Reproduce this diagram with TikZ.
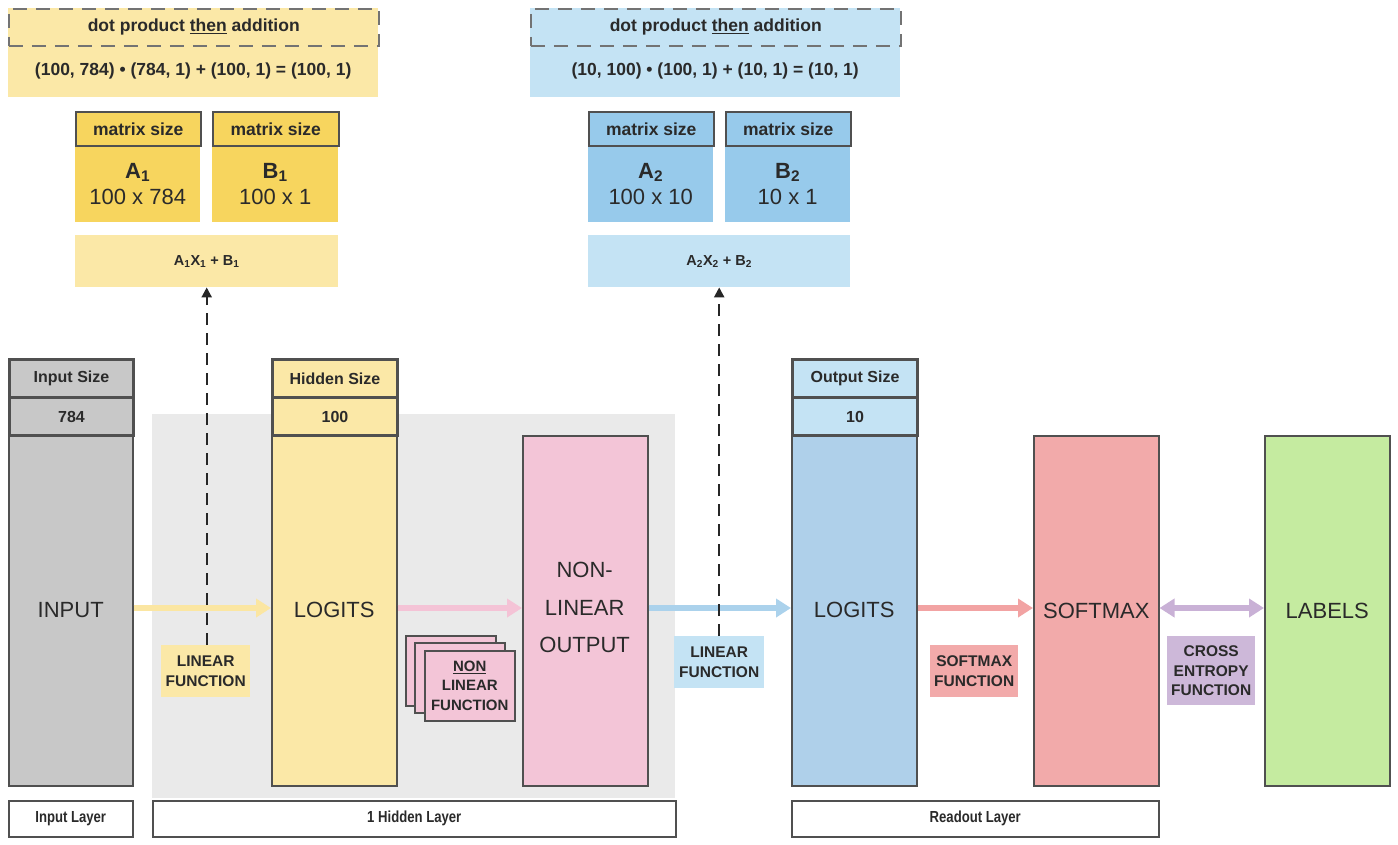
\documentclass[tikz,border=0pt]{standalone}
\usepackage{fontspec}
\setmainfont{Liberation Sans}
\newfontfamily\condf[FakeStretch=0.82]{Liberation Sans}
\usetikzlibrary{arrows.meta}
\definecolor{ylight}{HTML}{FBE8A7}
\definecolor{ydark}{HTML}{F7D55E}
\definecolor{blight}{HTML}{C4E3F4}
\definecolor{bmid}{HTML}{97CAEB}
\definecolor{bbody}{HTML}{AFD0EA}
\definecolor{gin}{HTML}{C8C8C8}
\definecolor{pinkc}{HTML}{F3C5D7}
\definecolor{redc}{HTML}{F2AAAA}
\definecolor{greenc}{HTML}{C5EBA0}
\definecolor{purplec}{HTML}{CDB8D9}
\definecolor{bgg}{HTML}{EAEAEA}
\definecolor{edge}{HTML}{505050}
\definecolor{txt}{HTML}{2A2A2A}
\definecolor{ya}{HTML}{FBE6A2}
\definecolor{pa}{HTML}{F4C3D6}
\definecolor{ba}{HTML}{ABD2EC}
\definecolor{ra}{HTML}{F2A3A3}
\definecolor{pua}{HTML}{C9B1D6}
\tikzset{
  base/.style={anchor=north west, inner sep=0pt, text=txt, align=center},
  plain/.style={base, draw=none},
  hdr/.style={base, draw=edge, line width=3pt, font=\bfseries\fontsize{16}{18}\selectfont},
  colbox/.style={base, draw=edge, line width=1.5pt, font=\fontsize{22}{38}\selectfont},
  mhdr/.style={base, draw=edge, line width=1.5pt, font=\bfseries\fontsize{17.5}{20}\selectfont},
  mbody/.style={base, font=\fontsize{22}{26}\selectfont},
  flabel/.style={base, font=\bfseries\fontsize{15.5}{19.5}\selectfont},
  layerlab/.style={base, draw=edge, line width=1.5pt, fill=white, font=\condf\bfseries\fontsize{16}{18}\selectfont},
  card/.style={base, draw=edge, line width=1.5pt, fill=pinkc},
  flow/.style={line width=6pt, -{Triangle[length=15pt,width=18pt]}},
  dflow/.style={line width=2.2pt, black!85, dash pattern=on 12pt off 8pt, -{Triangle[length=10pt,width=10pt]}},
  dpbox/.style={plain, draw=edge!80, dash pattern=on 14pt off 9pt, line width=1.5pt, minimum width=370pt, minimum height=37pt, font=\bfseries\fontsize{17.5}{20}\selectfont},
  formula/.style={plain, minimum width=370pt, minimum height=52pt, font=\bfseries\fontsize{17.5}{20}\selectfont},
  eqbox/.style={plain, minimum height=52pt, font=\bfseries\fontsize{14.5}{16}\selectfont},
}
\begin{document}
\begin{tikzpicture}[x=1pt,y=-1pt]
\useasboundingbox (0,0) rectangle (1398,844);
% gray hidden-layer background
\fill[bgg] (152,414) rectangle (675,798);

% ---- top left block ----
\fill[ylight] (8,8) rectangle (378,97);
\node[dpbox] (dp1) at (8,8) {dot product \underline{then} addition};
\node[formula] (f1) at (8,45) {(100, 784) • (784, 1) + (100, 1) = (100, 1)};
\node[mbody, fill=ydark, minimum width=125pt, minimum height=77pt] (a1) at (75,145) {\textbf{A\textsubscript{1}}\\100 x 784};
\node[mbody, fill=ydark, minimum width=126pt, minimum height=77pt] (b1) at (212,145) {\textbf{B\textsubscript{1}}\\100 x 1};
\node[mhdr, fill=ydark, minimum width=125pt, minimum height=34pt] (ah1) at (75,111) {matrix size};
\node[mhdr, fill=ydark, minimum width=126pt, minimum height=34pt] (bh1) at (212,111) {matrix size};
\node[eqbox, fill=ylight, minimum width=263pt] (eq1) at (75,235) {A\textsubscript{1}X\textsubscript{1} + B\textsubscript{1}};

% ---- top right block ----
\fill[blight] (530,8) rectangle (900,97);
\node[dpbox] (dp2) at (530,8) {dot product \underline{then} addition};
\node[formula] (f2) at (530,45) {(10, 100) • (100, 1) + (10, 1) = (10, 1)};
\node[mbody, fill=bmid, minimum width=125pt, minimum height=77pt] (a2) at (588,145) {\textbf{A\textsubscript{2}}\\100 x 10};
\node[mbody, fill=bmid, minimum width=125pt, minimum height=77pt] (b2) at (725,145) {\textbf{B\textsubscript{2}}\\10 x 1};
\node[mhdr, fill=bmid, minimum width=125pt, minimum height=34pt] (ah2) at (588,111) {matrix size};
\node[mhdr, fill=bmid, minimum width=125pt, minimum height=34pt] (bh2) at (725,111) {matrix size};
\node[eqbox, fill=blight, minimum width=262pt] (eq2) at (588,235) {A\textsubscript{2}X\textsubscript{2} + B\textsubscript{2}};

% ---- columns ----
\node[colbox, fill=gin, minimum width=124pt, minimum height=351pt] (input) at (8,434) {INPUT};
\node[hdr, fill=gin, minimum width=124pt, minimum height=38pt] (ins) at (8,358) {Input Size};
\node[hdr, fill=gin, minimum width=124pt, minimum height=38pt] (inv) at (8,396) {784};

\node[colbox, fill=ylight, minimum width=125pt, minimum height=351pt] (logits1) at (271,434) {LOGITS};
\node[hdr, fill=ylight, minimum width=125pt, minimum height=38pt] (hs) at (271,358) {Hidden Size};
\node[hdr, fill=ylight, minimum width=125pt, minimum height=38pt] (hv) at (271,396) {100};

\node[colbox, fill=pinkc, minimum width=125pt, minimum height=350pt] (nlo) at (522,435) {};
\node[base, font=\fontsize{22}{37.5}\selectfont, minimum width=125pt] (nlot) at (522,562) {NON-\\LINEAR\\OUTPUT};

\node[colbox, fill=bbody, minimum width=125pt, minimum height=351pt] (logits2) at (791,434) {LOGITS};
\node[hdr, fill=blight, minimum width=125pt, minimum height=38pt] (os) at (791,358) {Output Size};
\node[hdr, fill=blight, minimum width=125pt, minimum height=38pt] (ov) at (791,396) {10};

\node[colbox, fill=redc, minimum width=125pt, minimum height=350pt] (softmax) at (1033,435) {SOFTMAX};
\node[colbox, fill=greenc, minimum width=125pt, minimum height=350pt] (labels) at (1264,435) {LABELS};

% ---- flows ----
\draw[flow, ya] (input.east |- 0,608) -- (logits1.west |- 0,608);
\draw[flow, pa] (logits1.east |- 0,608) -- (nlo.west |- 0,608);
\draw[flow, ba] (nlo.east |- 0,608) -- (logits2.west |- 0,608);
\draw[flow, ra] (logits2.east |- 0,608) -- (softmax.west |- 0,608);
\draw[line width=6pt, pua, {Triangle[length=15pt,width=18pt]}-{Triangle[length=15pt,width=18pt]}] (softmax.east |- 0,608) -- (labels.west |- 0,608);

% ---- function labels ----
\node[flabel, fill=ylight, minimum width=89pt, minimum height=52pt] (lf1) at (161,645) {LINEAR\\FUNCTION};
\node[flabel, fill=blight, minimum width=90pt, minimum height=52pt] (lf2) at (674,636) {LINEAR\\FUNCTION};
\node[flabel, fill=redc, minimum width=88pt, minimum height=52pt] (sf) at (930,645) {SOFTMAX\\FUNCTION};
\node[flabel, fill=purplec, minimum width=88pt, minimum height=69pt] (ce) at (1167,636) {CROSS\\ENTROPY\\FUNCTION};

% non linear function cards
\node[card, minimum width=90pt, minimum height=70pt] (c3) at (405,635) {};
\node[card, minimum width=90pt, minimum height=70pt] (c2) at (414,642) {};
\node[card, minimum width=90pt, minimum height=70pt, font=\bfseries\fontsize{15}{19.5}\selectfont] (nlf) at (424,650) {\underline{NON}\\LINEAR\\FUNCTION};

% ---- dashed arrows ----
\draw[dflow] (lf1.north -| eq1.south) -- (eq1.south);
\draw[dflow] (lf2.north -| eq2.south) -- (eq2.south);

% ---- layer labels ----
\node[layerlab, minimum width=124pt, minimum height=36pt] (ll1) at (8,800) {Input Layer};
\node[layerlab, minimum width=523pt, minimum height=36pt] (ll2) at (152,800) {1 Hidden Layer};
\node[layerlab, minimum width=367pt, minimum height=36pt] (ll3) at (791,800) {Readout Layer};
\end{tikzpicture}
\end{document}
